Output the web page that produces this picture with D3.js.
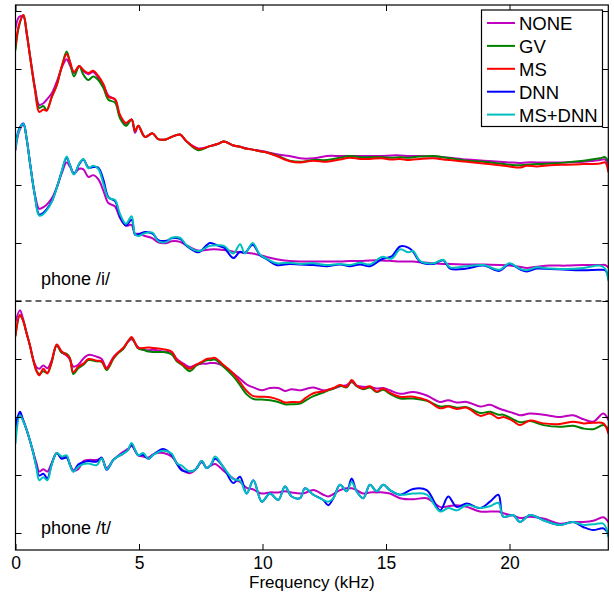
<!DOCTYPE html>
<html><head><meta charset="utf-8">
<script src="https://cdn.jsdelivr.net/npm/d3@7"></script>
<style>body{margin:0;background:#fff} svg{display:block} text{font-family:"Liberation Sans",Arial,Helvetica,sans-serif}</style>
</head><body><svg id="c" width="614" height="592"></svg>
<script>
// Frequency grids (kHz)
const freqI = [0,0.15,0.32,0.45,0.59,0.79,0.96,1.13,1.26,1.47,1.67,1.87,2.07,2.2,2.37,2.58,2.75,2.95,3.15,3.35,3.56,3.76,4.03,4.23,4.47,4.7,4.84,4.97,5.24,5.55,5.78,6.12,6.32,6.66,6.93,7.4,7.87,8.21,8.44,8.82,9.09,9.29,9.6,9.9,10.17,10.57,11.1,11.52,12.06,12.6,13.14,13.54,13.95,14.35,14.83,15.23,15.57,15.9,16.1,16.38,16.92,17.32,17.59,18.27,18.94,19.6,20.0,20.4,20.7,21.1,21.64,22.3,23.0,23.66,23.87,24.0];
const freqT = [0,0.18,0.3,0.45,0.58,0.72,0.85,0.96,1.13,1.29,1.46,1.67,1.87,2.07,2.2,2.34,2.54,2.75,2.95,3.29,3.49,3.69,3.96,4.15,4.36,4.55,4.7,4.97,5.17,5.38,5.58,5.98,6.32,6.53,6.73,7.06,7.3,7.54,7.74,7.9,8.08,8.41,8.82,9.09,9.36,9.63,9.97,10.3,10.64,10.91,11.18,11.52,11.72,12.06,12.46,12.66,12.87,13.14,13.41,13.61,13.81,14.08,14.35,14.62,14.89,15.16,15.57,16.1,16.65,17.19,17.52,17.86,18.27,18.81,19.21,19.55,19.75,20.15,20.42,20.83,21.37,22.04,22.58,23.0,23.39,23.8,24.0];

// phone /i/, upper group (dB, offset)
const noneIhi = [87.0,89.0,89.0,86.0,82.3,76.8,73.8,74.1,74.7,75.8,77.8,80.2,81.7,80.7,79.3,80.5,79.6,79.1,79.5,78.5,77.2,75.4,74.7,71.8,70.5,71.3,69.0,70.2,68.3,68.9,67.9,67.9,68.3,68.7,67.5,66.3,66.7,67.1,67.5,66.8,66.6,66.4,66.1,65.9,65.7,65.3,65.0,64.6,64.6,65.0,65.0,65.0,65.0,65.0,65.0,65.1,65.1,65.0,65.0,65.0,64.9,64.8,64.7,64.4,64.2,64.0,63.9,63.8,63.9,63.9,63.9,63.9,64.0,64.3,64.4,63.5];
const gvIhi = [83.3,87.5,89.3,86.4,82.1,76.4,73.3,73.6,72.9,75.2,77.2,80.4,83.0,81.3,78.7,80.5,79.0,78.1,78.7,78.1,76.7,74.7,74.2,71.5,70.2,71.3,69.3,70.2,68.3,68.9,67.9,67.9,68.3,68.7,67.5,66.0,66.7,67.1,67.5,66.8,66.6,66.3,66.1,65.8,65.6,65.1,64.2,64.0,64.3,64.3,64.7,65.0,64.8,64.8,64.8,64.7,64.8,64.7,64.8,64.9,65.0,64.8,64.6,64.2,64.0,63.7,63.5,63.4,63.5,63.6,63.7,63.9,64.2,64.6,64.8,64.0];
const msIhi = [84.0,87.8,89.3,86.4,82.1,76.4,72.6,73.0,72.8,75.2,77.2,80.4,82.6,81.3,79.5,80.5,79.8,79.3,79.7,78.8,77.4,75.2,74.8,72.1,70.7,71.3,69.3,70.2,68.3,68.9,67.9,67.9,68.3,68.7,67.5,66.2,66.7,67.1,67.5,66.8,66.6,66.3,66.1,65.8,65.6,65.0,64.1,63.9,64.2,64.0,64.4,64.7,64.5,64.5,64.6,64.4,64.5,64.3,64.4,64.5,64.6,64.4,64.3,64.0,63.7,63.4,63.2,63.0,63.3,63.2,63.4,63.5,63.6,63.7,63.9,62.3];
// phone /i/, lower group
const noneIlo = [66.0,69.3,70.4,68.0,63.7,58.3,55.9,56.2,56.6,57.7,59.6,62.0,63.9,63.2,62.0,62.8,62.7,61.4,61.7,61.0,59.0,56.9,56.3,54.3,53.0,53.1,51.6,51.6,51.2,50.8,50.1,50.0,50.3,50.2,49.6,48.7,48.9,48.9,48.8,48.5,48.4,48.3,48.2,47.9,47.6,47.2,46.9,46.8,46.8,46.8,46.8,46.9,46.9,47.0,47.0,46.9,46.8,46.8,46.8,46.7,46.5,46.4,46.4,46.3,46.3,46.2,46.1,45.9,45.7,45.9,46.1,46.1,46.2,46.2,46.2,45.8];
const dnnIlo = [66.8,69.7,70.6,68.0,63.7,58.0,54.9,55.2,55.8,57.2,59.5,62.3,64.7,63.5,61.9,63.6,64.4,63.0,63.1,63.0,60.9,57.9,57.2,54.6,53.0,54.0,51.4,51.5,51.9,51.6,50.5,50.4,50.8,50.7,49.5,48.4,50.0,49.5,49.2,47.4,48.5,48.3,49.7,47.9,47.2,46.2,46.4,46.3,46.2,46.0,46.3,46.0,46.3,46.0,47.2,47.7,49.4,49.2,48.5,46.8,46.4,47.0,45.6,45.6,46.1,45.2,46.4,45.5,45.1,45.6,45.5,45.4,45.3,45.4,45.3,44.3];
const msdnnIlo = [66.3,69.5,70.5,68.0,63.7,58.0,54.7,55.0,55.6,57.1,59.5,62.3,64.9,63.5,61.8,63.7,64.5,62.9,63.3,62.8,60.2,57.8,57.4,55.0,53.3,54.6,51.5,51.2,51.7,51.8,50.3,50.2,50.9,50.9,49.6,48.6,49.5,49.6,49.5,48.2,49.8,48.2,50.0,48.0,47.3,46.5,46.6,46.4,46.5,46.2,46.4,46.2,46.6,46.3,47.6,47.3,48.9,48.4,48.6,46.9,46.5,47.1,45.8,46.0,46.2,45.4,46.5,45.6,45.3,45.8,45.6,45.5,45.7,46.1,45.6,43.6];
// phone /t/, upper group
const noneThi = [36.4,38.4,37.0,34.5,32.4,29.9,28.6,28.3,28.9,28.4,29.7,32.3,31.1,30.6,29.9,28.7,29.0,30.1,30.7,30.4,30.0,28.5,30.3,31.1,31.8,33.0,33.4,32.0,31.6,31.5,31.6,31.3,31.2,30.0,29.4,28.6,29.0,29.2,29.2,29.3,29.3,28.8,27.5,26.6,25.6,25.1,24.6,25.0,25.0,24.5,24.8,24.6,24.8,25.1,24.6,24.7,24.9,25.3,25.5,26.0,25.4,25.2,25.2,24.9,25.0,24.6,24.0,24.3,23.7,22.6,22.9,22.5,22.6,21.8,22.1,21.5,21.2,20.7,20.3,20.6,20.4,20.0,20.3,19.6,19.2,20.6,19.5];
const gvThi = [34.0,37.5,36.7,34.4,32.4,29.8,28.0,27.4,27.9,27.6,29.3,32.4,31.1,30.9,30.2,27.4,28.4,29.0,29.8,29.6,29.5,28.1,30.0,31.0,31.7,33.0,33.6,31.8,31.6,31.3,31.2,31.2,30.8,29.6,29.0,27.9,28.8,29.4,29.8,29.8,29.9,28.7,27.0,25.5,23.9,23.1,23.0,22.9,22.6,22.2,22.2,22.3,22.8,23.6,24.2,24.6,24.9,25.4,25.1,26.2,25.3,24.8,25.1,24.3,24.7,24.0,23.2,23.2,22.8,21.8,21.9,21.6,21.7,20.7,20.9,20.4,20.4,19.6,19.1,19.3,18.6,18.3,18.5,18.0,17.9,18.6,18.0];
const msThi = [34.1,37.6,36.7,34.4,32.4,29.8,27.9,27.2,28.3,27.5,29.5,32.5,31.3,30.7,30.1,27.7,28.7,29.2,30.0,29.7,29.6,28.3,30.2,31.1,31.9,33.0,33.8,31.9,31.9,32.0,31.9,31.7,31.3,29.8,29.2,28.3,29.0,29.5,30.0,30.1,30.2,29.0,27.5,26.0,24.5,23.6,23.5,23.4,23.0,22.5,22.6,22.6,23.2,24.1,24.4,24.7,25.0,25.5,25.2,26.4,25.4,24.9,25.3,24.4,24.9,24.2,23.5,23.5,22.9,21.5,21.8,21.4,21.6,20.2,20.6,19.8,20.0,19.3,18.6,19.4,18.9,18.8,19.2,18.9,19.0,18.9,17.2];
// phone /t/, lower group
const noneTlo = [17.5,20.6,19.5,17.8,16.0,13.9,12.0,10.6,11.0,10.6,12.0,13.8,13.0,13.2,11.9,10.8,11.0,12.4,12.6,12.6,12.8,11.2,12.6,13.3,14.0,14.5,15.0,13.4,13.2,13.0,13.6,13.8,13.2,12.0,11.0,10.3,11.0,12.2,11.2,11.6,11.9,10.8,9.4,8.8,7.8,7.5,6.8,7.0,7.0,7.2,7.0,6.8,6.9,7.4,6.6,6.3,6.7,7.4,7.7,7.7,7.4,6.8,7.0,7.0,7.0,6.8,6.0,5.8,6.0,4.5,4.6,4.8,4.5,3.7,3.7,3.7,3.4,3.0,2.6,2.8,2.5,1.6,1.9,1.9,2.1,2.7,1.9];
const dnnTlo = [18.5,20.9,19.6,17.8,16.0,13.8,11.4,9.9,10.2,9.4,11.8,13.8,12.8,13.0,11.8,10.6,11.8,12.2,12.4,12.3,13.0,10.9,12.6,13.2,13.7,14.3,15.2,13.4,13.5,12.8,13.5,14.5,13.5,12.0,10.8,10.6,11.0,12.4,11.2,11.7,12.8,11.4,8.6,9.7,6.8,9.1,5.4,6.8,5.7,8.0,6.3,6.0,7.7,6.6,5.7,4.8,6.0,8.3,7.2,9.4,7.2,6.0,8.3,7.2,8.3,7.4,6.6,7.6,7.4,3.9,6.3,4.5,5.1,4.3,5.4,6.6,2.8,3.1,1.9,3.1,2.2,1.4,1.9,1.0,0.5,0.8,-0.1];
const msdnnTlo = [15.5,20.3,19.4,17.8,16.0,13.8,11.2,9.1,9.6,9.1,11.7,13.8,13.2,13.4,11.8,10.6,11.4,11.9,12.0,11.7,12.9,11.0,12.6,13.2,13.7,14.3,15.5,13.4,13.8,12.8,13.5,14.2,13.7,12.0,11.6,10.6,11.0,12.4,11.2,11.7,13.2,11.4,9.3,9.0,6.8,9.1,5.4,6.8,5.7,8.0,6.3,6.0,7.7,6.6,5.7,5.4,6.0,8.3,7.2,8.8,7.2,6.0,8.3,7.2,8.3,7.4,6.6,6.8,6.6,3.7,4.3,3.9,4.8,4.3,4.6,5.2,2.8,3.1,1.9,3.1,2.2,1.4,1.9,1.4,1.5,1.6,-0.6];

const legendNames = ["NONE","GV","MS","DNN","MS+DNN"];
const colors = {"NONE":"#bf00bf","GV":"#008000","MS":"#ff0000","DNN":"#0000ff","MS+DNN":"#00bfbf"};
const xTicks = [0,5,10,15,20];
const yTicks = [0,10,20,30,40,50,60,70,80,90];
const dividerLevel = 40;
const phoneLabels = [{text:"phone /i/", level:43}, {text:"phone /t/", level:0}];

const series = [
  {name:"NONE", f:freqI, v:noneIhi}, {name:"GV", f:freqI, v:gvIhi}, {name:"MS", f:freqI, v:msIhi},
  {name:"NONE", f:freqI, v:noneIlo}, {name:"DNN", f:freqI, v:dnnIlo}, {name:"MS+DNN", f:freqI, v:msdnnIlo},
  {name:"NONE", f:freqT, v:noneThi}, {name:"GV", f:freqT, v:gvThi}, {name:"MS", f:freqT, v:msThi},
  {name:"NONE", f:freqT, v:noneTlo}, {name:"DNN", f:freqT, v:dnnTlo}, {name:"MS+DNN", f:freqT, v:msdnnTlo}
];

const L = 15.5, R = 608.3, T = 5, B = 550;
const svg = d3.select("#c");
const x = d3.scaleLinear().domain([0,24]).range([L,R]);
const y = d3.scaleLinear().domain([-2.931,91.034]).range([B,T]);

const clip = svg.append("defs").append("clipPath").attr("id","pc");
clip.append("rect").attr("x",L).attr("y",T).attr("width",R-L).attr("height",B-T);

// divider
svg.append("line").attr("x1",L).attr("x2",R).attr("y1",y(dividerLevel)).attr("y2",y(dividerLevel))
  .attr("stroke","#333").attr("stroke-width",1.3).attr("stroke-dasharray","6,4");

const line = d3.line().curve(d3.curveCatmullRom.alpha(0.5));
const g = svg.append("g").attr("clip-path","url(#pc)");
series.forEach(s => {
  g.append("path").attr("d", line(s.f.map((f,i)=>[x(f), y(s.v[i])])))
    .attr("fill","none").attr("stroke",colors[s.name]).attr("stroke-width",2)
    .attr("stroke-linejoin","round").attr("stroke-linecap","round");
});

// axes
const ax = (sel)=>{sel.select(".domain").remove(); sel.selectAll(".tick line").attr("stroke","#000");};
svg.append("g").attr("transform",`translate(0,${B})`)
  .call(d3.axisBottom(x).tickValues(xTicks).tickSizeInner(-6).tickSizeOuter(0).tickPadding(6.5).tickFormat(d3.format("d")))
  .call(ax).call(s=>s.selectAll("text").attr("font-size",17.5).attr("fill","#000").style("font-family","'Liberation Sans',Arial,sans-serif"));
svg.append("g").attr("transform",`translate(0,${T})`)
  .call(d3.axisTop(x).tickValues(xTicks).tickSizeInner(-6).tickSizeOuter(0).tickFormat("")).call(ax);
svg.append("g").attr("transform",`translate(${L},0)`)
  .call(d3.axisLeft(y).tickValues(yTicks).tickSizeInner(-6).tickSizeOuter(0).tickFormat("")).call(ax);
svg.append("g").attr("transform",`translate(${R},0)`)
  .call(d3.axisRight(y).tickValues(yTicks).tickSizeInner(-6).tickSizeOuter(0).tickFormat("")).call(ax);

svg.append("rect").attr("x",L).attr("y",T).attr("width",R-L).attr("height",B-T)
  .attr("fill","none").attr("stroke","#000").attr("stroke-width",1.2);

svg.append("text").attr("x",(L+R)/2).attr("y",588.3).attr("text-anchor","middle")
  .attr("font-size",17).text("Frequency (kHz)");

phoneLabels.forEach(p=>{
  svg.append("text").attr("x",41).attr("y",y(p.level)+1).attr("font-size",18).text(p.text);
});

// legend
const lg = svg.append("g");
lg.append("rect").attr("x",481.5).attr("y",10).attr("width",121).attr("height",116.5)
  .attr("fill","#fff").attr("stroke","#000").attr("stroke-width",1.2);
legendNames.forEach((n,i)=>{
  const cy = 23 + i*22.9;
  lg.append("line").attr("x1",487).attr("x2",515).attr("y1",cy).attr("y2",cy)
    .attr("stroke",colors[n]).attr("stroke-width",2);
  lg.append("text").attr("x",519).attr("y",cy+7).attr("font-size",18.5).text(n);
});
</script></body></html>
